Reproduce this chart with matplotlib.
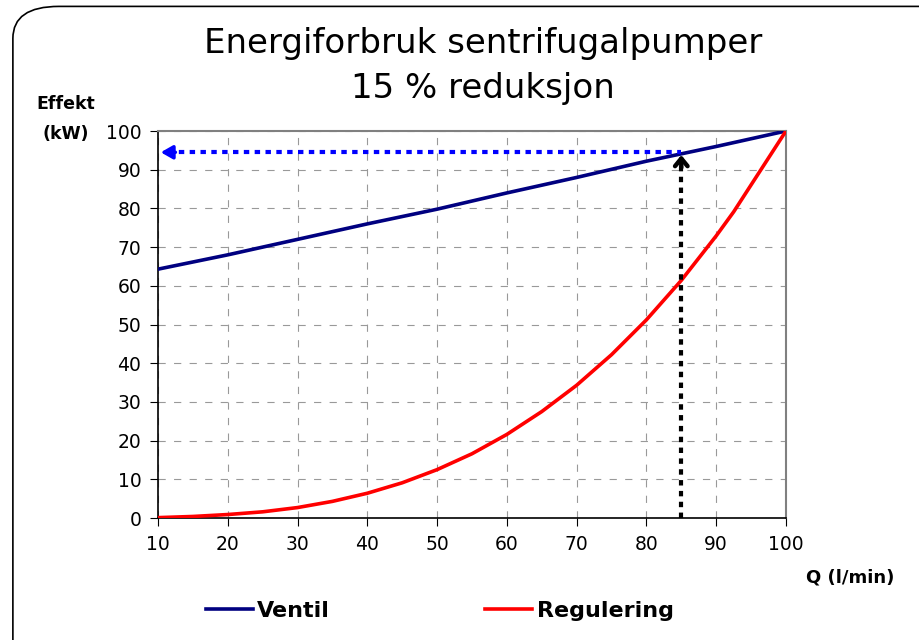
import numpy as np
import matplotlib.pyplot as plt
from matplotlib.patches import FancyBboxPatch

q_ventil = [10, 20, 30, 40, 50, 60, 70, 80, 90, 100]
p_ventil = [64.3, 68, 72, 76, 79.8, 84, 88, 92.2, 96, 100]

q_reg = [10, 15, 20, 25, 30, 35, 40, 45, 50, 55, 60, 65, 70, 75, 80, 85, 90, 92.5, 100]
p_reg = [0.1, 0.4, 0.9, 1.6, 2.7, 4.3, 6.4, 9.1, 12.5, 16.6, 21.6, 27.5, 34.3, 42.2,
         51.2, 61.4, 72.9, 79.1, 100]

q_mark = 85
p_mark = 94.5

plt.rcParams['font.family'] = ['DejaVu Sans']

fig = plt.figure(figsize=(9.2, 6.4), dpi=100)
ax = fig.add_axes([0.1717, 0.1906, 0.6826, 0.6047])

# frame around the whole chart (runs off right and bottom edge)
frame = FancyBboxPatch((0.014, -0.05), 1.05, 1.04, boxstyle='round,pad=0,rounding_size=0.05',
                       transform=fig.transFigure, fill=False, edgecolor='black', linewidth=1.2,
                       clip_on=False)
fig.patches.append(frame)

ax.plot(q_ventil, p_ventil, color='#000080', linewidth=2.6, label='Ventil', zorder=3)
ax.plot(q_reg, p_reg, color='#ff0000', linewidth=2.6, label='Regulering', zorder=3)

# dotted lines with arrow heads
ax.plot([11.5, q_mark], [p_mark, p_mark], color='#0000ff', linewidth=3.0,
        linestyle=(0, (1.3, 1.3)), dash_capstyle='butt', zorder=4)
ax.plot([q_mark, q_mark], [0, p_mark - 2], color='black', linewidth=3.0,
        linestyle=(0, (1.3, 1.3)), dash_capstyle='butt', zorder=4)
ax.annotate('', xy=(10.4, p_mark), xytext=(12.5, p_mark),
            arrowprops=dict(arrowstyle='-|>,head_length=0.7,head_width=0.4', color='#0000ff',
                            linewidth=2.5, shrinkA=0, shrinkB=0, joinstyle='round'), zorder=4)
ax.annotate('', xy=(q_mark, p_mark - 0.7), xytext=(q_mark, p_mark - 4),
            arrowprops=dict(arrowstyle='->,head_length=0.55,head_width=0.45', color='black',
                            linewidth=3.2, shrinkA=0, shrinkB=0, joinstyle='round',
                            capstyle='round'), zorder=4)

ax.set_xlim(10, 100)
ax.set_ylim(0, 100)
ax.set_xticks(np.arange(10, 101, 10))
ax.set_yticks(np.arange(0, 101, 10))
ax.tick_params(labelsize=13.5, length=6, direction='out', pad=6)
ax.grid(True, color='#999999', linestyle=(0, (6.5, 7.5)), linewidth=0.8)
ax.set_axisbelow(True)
for s in ['top', 'right']:
    ax.spines[s].set_color('#808080')
    ax.spines[s].set_linewidth(1.5)
for s in ['left', 'bottom']:
    ax.spines[s].set_color('black')
    ax.spines[s].set_linewidth(1.2)

fig.text(0.525, 0.932, 'Energiforbruk sentrifugalpumper', ha='center', va='center', fontsize=24.5)
fig.text(0.525, 0.862, '15 % reduksjon', ha='center', va='center', fontsize=24.5)
fig.text(0.072, 0.838, 'Effekt', ha='center', va='center', fontsize=12.5, fontweight='bold')
fig.text(0.072, 0.79, '(kW)', ha='center', va='center', fontsize=12.5, fontweight='bold')
fig.text(0.972, 0.097, 'Q (l/min)', ha='right', va='center', fontsize=13, fontweight='bold')

leg = fig.legend(loc='center', bbox_to_anchor=(0.478, 0.045), ncol=2, frameon=False,
                 prop={'weight': 'bold', 'size': 16}, handlelength=2.1, handletextpad=0.2,
                 columnspacing=7.0)

fig.savefig('out.png', dpi=100)
